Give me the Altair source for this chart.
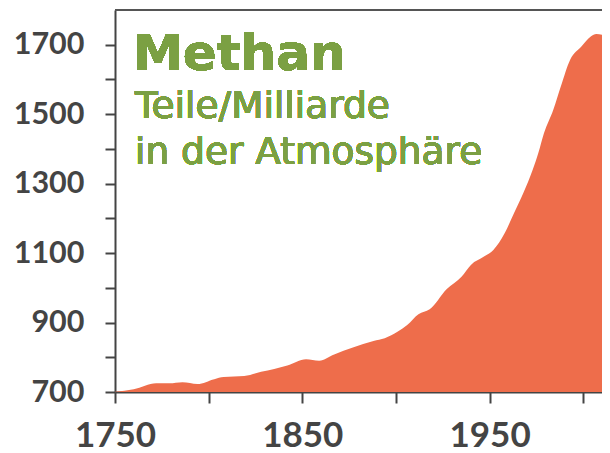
import altair as alt
import pandas as pd

years = [1750, 1760, 1772, 1779, 1786, 1794, 1803, 1808, 1819, 1828, 1835, 1842,
         1852, 1859, 1867, 1877, 1888, 1894, 1901, 1906, 1912, 1918, 1927, 1935,
         1940, 1947, 1952, 1958, 1963, 1968, 1973, 1976, 1979, 1984, 1988, 1993,
         1999, 2004, 2007, 2010, 2012, 2015]
ppb = [701, 708, 725, 725, 728, 723, 737, 743, 746, 758, 766, 776,
       794, 790, 808, 828, 847, 855, 874, 893, 924, 938, 996, 1032,
       1066, 1090, 1109, 1157, 1215, 1273, 1340, 1388, 1445, 1513, 1580, 1657,
       1695, 1724, 1731, 1729, 1743, 1753]

title = "Methan"
subtitle_lines = ["Teile/Milliarde", "in der Atmosphäre"]
y_ticks = list(range(700, 1701, 100))
x_ticks = list(range(1750, 2001, 50))

df = pd.DataFrame({"year": years, "ppb": ppb})

W, H = 487, 382
AREA = "#EE6D4B"
GREEN = "#7BA043"
AXIS = "#444444"

x_enc = alt.X("year:Q", scale=alt.Scale(domain=[1750, 2010], nice=False, zero=False),
              axis=alt.Axis(values=x_ticks, format="d", title=None,
                            labelExpr="datum.value % 100 == 50 ? datum.label : ''",
                            labelFlush=False, labelOverlap=False, labelBound=False,
                            tickSize=11, labelPadding=15, labelFontSize=35))
y_enc = alt.Y("ppb:Q", scale=alt.Scale(domain=[700, 1800], nice=False, zero=False),
              axis=alt.Axis(values=y_ticks, format="d", title=None,
                            labelExpr="datum.value % 200 == 100 ? datum.label : ''",
                            labelOverlap=False, labelBound=False,
                            tickSize=10, labelPadding=21, labelFontSize=30.5))

area = alt.Chart(df).mark_area(color=AREA, interpolate="monotone", clip=True).encode(
    x=x_enc, y=y_enc, y2=alt.datum(700)
)

top_line = alt.Chart(df).mark_rule(color="#555555", strokeWidth=2).encode(
    x=alt.value(0), x2=alt.value(W), y=alt.value(0)
)

t1 = alt.Chart(df).mark_text(font="DejaVu Sans", fontWeight="bold", fontSize=50,
                              color=GREEN, align="left", baseline="alphabetic").encode(
    x=alt.value(18), y=alt.value(60), text=alt.value(title)
)
t2 = alt.Chart(df).mark_text(font="DejaVu Sans", fontSize=37.5,
                              color=GREEN, align="left", baseline="alphabetic").encode(
    x=alt.value(20), y=alt.value(108), text=alt.value(subtitle_lines[0])
)
t3 = alt.Chart(df).mark_text(font="DejaVu Sans", fontSize=37.5,
                              color=GREEN, align="left", baseline="alphabetic").encode(
    x=alt.value(20), y=alt.value(154), text=alt.value(subtitle_lines[1])
)

chart = alt.layer(area, top_line, t1, t2, t3).properties(
    width=W, height=H,
    autosize=alt.AutoSizeParams(type="none"),
    padding={"left": 107, "top": 2, "right": 0, "bottom": 61},
).configure_view(strokeWidth=0).configure_axis(
    grid=False, domainColor=AXIS, domainWidth=2, tickColor=AXIS, tickWidth=2,
    labelColor=AXIS, labelFont="Lato", labelFontWeight="bold"
)

chart.save("out.html", embed_options={"renderer": "svg", "actions": False})
